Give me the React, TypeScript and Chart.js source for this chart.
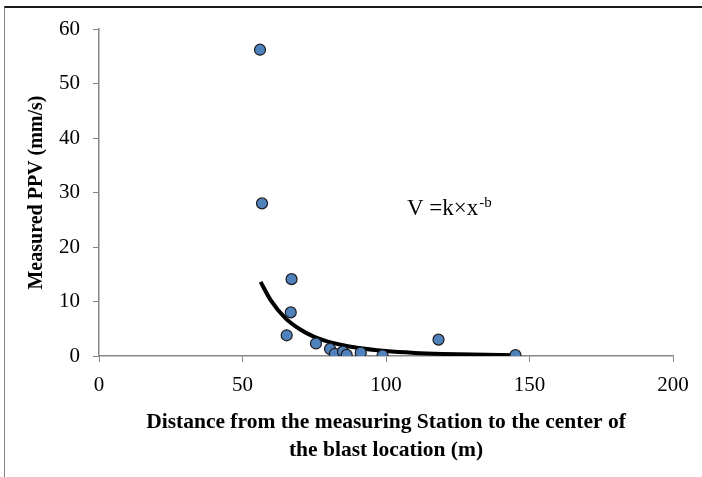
import React, { useEffect, useRef } from "react";
import { Chart, registerables } from "chart.js";

Chart.register(...registerables);

// Measured points (distance m, PPV mm/s)
const distances = [56.1, 56.8, 67.1, 66.8, 65.4, 75.6, 80.5, 82.2, 85.0, 86.3, 91.2, 98.8, 118.3, 145.1];
const ppvValues = [56.2, 28.0, 14.1, 8.0, 3.8, 2.3, 1.3, 0.4, 0.8, 0.2, 0.6, 0.1, 3.0, 0.15];

// Power-law trendline
const trendX = [56.3, 60, 65, 70, 75, 80, 90, 100, 110, 120, 130, 145];
const trendY = [13.6, 10.1, 6.9, 4.9, 3.5, 2.6, 1.5, 0.9, 0.57, 0.38, 0.26, 0.15];

const xTicks = [0, 50, 100, 150, 200];
const yTicks = [0, 10, 20, 30, 40, 50, 60];

const xTitle = ["Distance from the measuring Station to the center of", "the blast location (m)"];
const yTitle = "Measured PPV (mm/s)";
const equationMain = "V =k×x";
const equationSup = "-b";
const equationAt = { x: 107.3, y: 25.9 };

const FONT = "'Liberation Serif', 'Times New Roman', serif";
const AXIS = "#868686";

export default function App() {
  const ref = useRef<HTMLCanvasElement | null>(null);

  useEffect(() => {
    if (!ref.current) return;
    const eqPlugin = {
      id: "equation",
      afterDatasetsDraw(chart: any) {
        const { ctx, scales } = chart;
        const px = scales.x.getPixelForValue(equationAt.x);
        const py = scales.y.getPixelForValue(equationAt.y);
        ctx.save();
        ctx.fillStyle = "#000";
        ctx.textBaseline = "alphabetic";
        ctx.textAlign = "left";
        ctx.font = `23px ${FONT}`;
        ctx.fillText(equationMain, px, py);
        const w = ctx.measureText(equationMain).width;
        ctx.font = `15px ${FONT}`;
        ctx.fillText(equationSup, px + w + 1, py - 8);
        ctx.restore();
      },
    };

    const chart = new Chart(ref.current, {
      type: "scatter",
      data: {
        datasets: [
          {
            label: "Measured",
            data: distances.map((d, i) => ({ x: d, y: ppvValues[i] })),
            backgroundColor: "#4F81BD",
            borderColor: "#1c1c1c",
            borderWidth: 1.2,
            pointRadius: 5.5,
            order: 0,
          },
          {
            label: "Trend",
            data: trendX.map((d, i) => ({ x: d, y: trendY[i] })),
            showLine: true,
            borderColor: "#000",
            borderWidth: 4,
            pointRadius: 0,
            cubicInterpolationMode: "monotone",
            order: 1,
          } as any,
        ],
      },
      options: {
        animation: false,
        responsive: false,
        maintainAspectRatio: false,
        layout: { padding: { top: 29, right: 29, bottom: 0, left: 0 } },
        plugins: { legend: { display: false }, tooltip: { enabled: false } },
        scales: {
          x: {
            type: "linear",
            min: 0,
            max: 200,
            afterBuildTicks: (s: any) => {
              s.ticks = xTicks.map((v) => ({ value: v }));
            },
            afterFit: (s: any) => {
              s.height = 121;
            },
            grid: { drawOnChartArea: false, drawTicks: true, tickLength: 6, color: AXIS },
            border: { color: AXIS, width: 1.5 },
            ticks: { color: "#000", font: { family: FONT, size: 21 }, padding: 11, maxRotation: 0 },
            title: {
              display: true,
              text: xTitle,
              color: "#000",
              font: { family: FONT, size: 21.5, weight: "bold", lineHeight: 1.33 },
              padding: { top: 0, bottom: 12 },
            },
          },
          y: {
            type: "linear",
            min: 0,
            max: 60,
            afterBuildTicks: (s: any) => {
              s.ticks = yTicks.map((v) => ({ value: v }));
            },
            afterFit: (s: any) => {
              s.width = 99;
            },
            grid: { drawOnChartArea: false, drawTicks: true, tickLength: 6, color: AXIS },
            border: { color: AXIS, width: 1.5 },
            ticks: { color: "#000", font: { family: FONT, size: 21 }, padding: 13 },
            title: {
              display: true,
              text: yTitle,
              color: "#000",
              font: { family: FONT, size: 20, weight: "bold", lineHeight: 1.2 },
              padding: { top: 25, bottom: 0 },
            },
          },
        },
      },
      plugins: [eqPlugin],
    });
    return () => chart.destroy();
  }, []);

  return (
    <div style={{ position: "fixed", left: 0, top: 0, width: 702, height: 477, background: "#fff", overflow: "hidden" }}>
      <div
        style={{
          position: "absolute",
          left: 4,
          top: 6,
          width: 900,
          height: 700,
          borderLeft: "1px solid #808080",
          borderTop: "2px solid #1a1a1a",
        }}
      />
      <canvas ref={ref} width={702} height={477} style={{ position: "absolute", left: 0, top: 0 }} />
    </div>
  );
}
